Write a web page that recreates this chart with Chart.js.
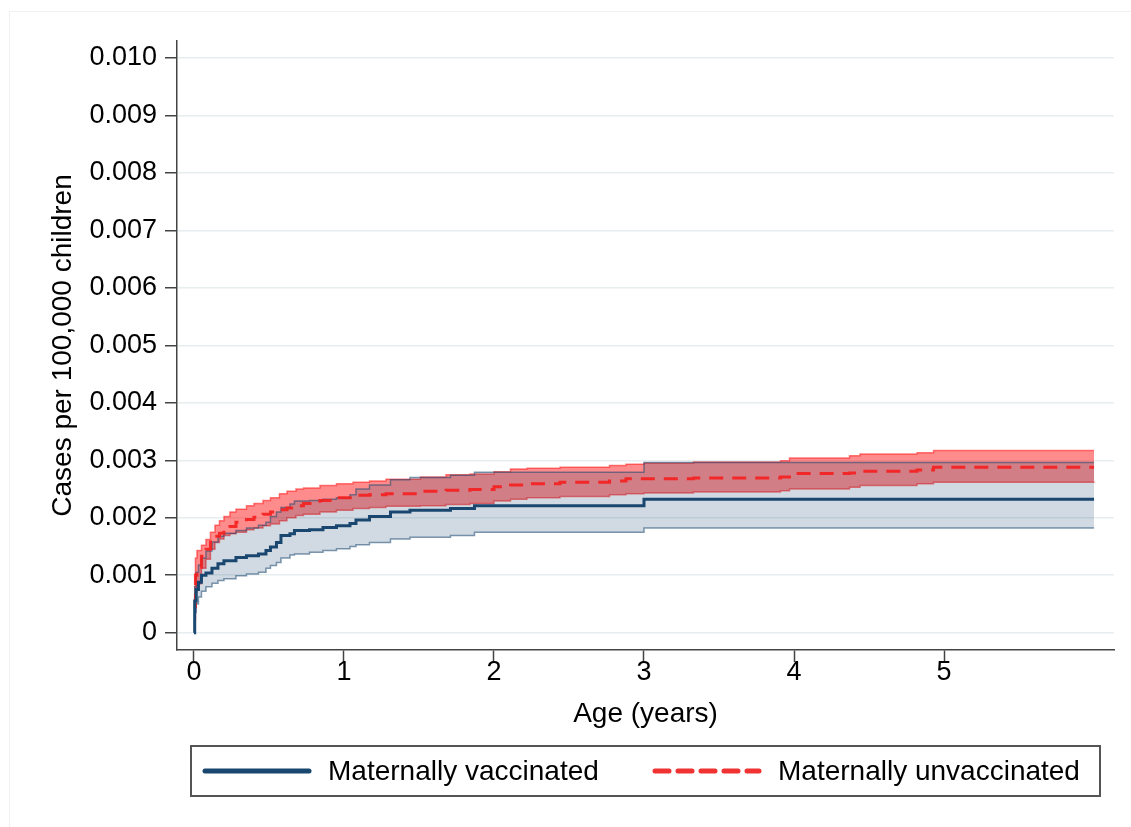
<!DOCTYPE html>
<html>
<head>
<meta charset="utf-8">
<script src="https://cdn.jsdelivr.net/npm/chart.js@4.4.1/dist/chart.umd.min.js"></script>
<style>
  html, body { margin: 0; padding: 0; background: #fff; }
  #wrap { position: relative; width: 1131px; height: 827px; font-family: "Liberation Sans", Arial, sans-serif; }
  #marco { position: absolute; left: 9px; top: 11px; right: 0; bottom: 0; border-top: 1px solid #f0f0f0; border-left: 1px solid #f0f0f0; }
  #grafico { position: absolute; left: 0; top: 0; }
  #leyenda { position: absolute; left: 190px; top: 745px; width: 911px; height: 52px; border: 2px solid #555; box-sizing: border-box; }
  .item { position: absolute; top: 0; height: 48px; display: flex; align-items: center; font-size: 28px; color: #000; }
  .item svg { margin-right: 16px; }
</style>
</head>
<body>
<div id="wrap">
  <div id="marco"></div>
  <canvas id="grafico" width="1131" height="827"></canvas>
  <div id="leyenda">
    <div class="item" style="left: 10px;">
      <svg width="110" height="12"><line x1="3" y1="6" x2="107" y2="6" stroke="#1a476f" stroke-width="5" stroke-linecap="round"/></svg>
      <span id="txt-vac"></span>
    </div>
    <div class="item" style="left: 460px;">
      <svg width="110" height="12"><line x1="3" y1="6" x2="107" y2="6" stroke="#f03232" stroke-width="5" stroke-linecap="round" stroke-dasharray="14 9"/></svg>
      <span id="txt-novac"></span>
    </div>
  </div>
</div>

<script>
// Series names
const nombreVacunados = 'Maternally vaccinated';
const nombreNoVacunados = 'Maternally unvaccinated';

// Maternally vaccinated: age (years), cumulative incidence and 95% CI
const tiempoVac = [0, 0.005, 0.015, 0.03, 0.05, 0.08, 0.12, 0.16, 0.2, 0.28, 0.35, 0.43, 0.48, 0.51, 0.55, 0.58, 0.64, 0.67, 0.77, 0.86, 0.95, 1.04, 1.08, 1.17, 1.31, 1.44, 1.71, 1.87, 3.0, 6.0];
const estimVac = [0, 0.00055, 0.00075, 0.00088, 0.00100, 0.00104, 0.00112, 0.00120, 0.00125, 0.00131, 0.00134, 0.00137, 0.00143, 0.00149, 0.00157, 0.00169, 0.00172, 0.00178, 0.00179, 0.00183, 0.00186, 0.00190, 0.00196, 0.00202, 0.00210, 0.00213, 0.00216, 0.00221, 0.00232, 0.00232];
const infVac   = [0, 0.00035, 0.00050, 0.00062, 0.00072, 0.00080, 0.00086, 0.00091, 0.00094, 0.00099, 0.00102, 0.00105, 0.00112, 0.00117, 0.00122, 0.00130, 0.00135, 0.00137, 0.00140, 0.00143, 0.00146, 0.00150, 0.00153, 0.00157, 0.00163, 0.00166, 0.00169, 0.00175, 0.00182, 0.00182];
const supVac   = [0, 0.00080, 0.00105, 0.00118, 0.00130, 0.00142, 0.00158, 0.00168, 0.00173, 0.00178, 0.00182, 0.00187, 0.00192, 0.00202, 0.00210, 0.00218, 0.00224, 0.00229, 0.00230, 0.00232, 0.00235, 0.00240, 0.00250, 0.00257, 0.00266, 0.00270, 0.00274, 0.00279, 0.00296, 0.00296];

// Maternally unvaccinated
const tiempoNoVac = [0, 0.01, 0.02, 0.05, 0.08, 0.11, 0.14, 0.17, 0.2, 0.24, 0.28, 0.35, 0.40, 0.46, 0.51, 0.57, 0.62, 0.68, 0.73, 0.84, 0.95, 1.06, 1.17, 1.28, 1.51, 1.68, 1.84, 2.0, 2.11, 2.22, 2.44, 2.77, 2.88, 3.0, 3.33, 3.91, 3.97, 4.37, 4.44, 4.82, 4.93, 6.0];
const estimNoVac = [0.00045, 0.00100, 0.00114, 0.00133, 0.00145, 0.00158, 0.00168, 0.00173, 0.00178, 0.00185, 0.00192, 0.00197, 0.00201, 0.00206, 0.00210, 0.00214, 0.00217, 0.00221, 0.00225, 0.00230, 0.00235, 0.00239, 0.00240, 0.00242, 0.00246, 0.00248, 0.00249, 0.00254, 0.00257, 0.00259, 0.00262, 0.00264, 0.00268, 0.00268, 0.00269, 0.00271, 0.00277, 0.00278, 0.00281, 0.00283, 0.00288, 0.00288];
const infNoVac   = [0.00022, 0.00070, 0.00085, 0.00112, 0.00128, 0.00145, 0.00157, 0.00163, 0.00169, 0.00172, 0.00175, 0.00179, 0.00182, 0.00186, 0.00189, 0.00195, 0.00200, 0.00204, 0.00206, 0.00210, 0.00213, 0.00216, 0.00218, 0.00220, 0.00221, 0.00223, 0.00225, 0.00229, 0.00232, 0.00235, 0.00237, 0.00240, 0.00242, 0.00243, 0.00245, 0.00247, 0.00250, 0.00253, 0.00256, 0.00259, 0.00262, 0.00261];
const supNoVac   = [0.00080, 0.00130, 0.00143, 0.00152, 0.00162, 0.00175, 0.00187, 0.00195, 0.00202, 0.00210, 0.00215, 0.00221, 0.00225, 0.00230, 0.00235, 0.00242, 0.00246, 0.00250, 0.00252, 0.00256, 0.00259, 0.00262, 0.00264, 0.00267, 0.00271, 0.00275, 0.00276, 0.00280, 0.00285, 0.00286, 0.00288, 0.00291, 0.00293, 0.00295, 0.00297, 0.00299, 0.00304, 0.00308, 0.00311, 0.00313, 0.00317, 0.00317];

// Ticks
const ticksX = [0, 1, 2, 3, 4, 5];
const ticksY = [0, 0.001, 0.002, 0.003, 0.004, 0.005, 0.006, 0.007, 0.008, 0.009, 0.010];
const etiquetasY = ['0', '0.001', '0.002', '0.003', '0.004', '0.005', '0.006', '0.007', '0.008', '0.009', '0.010'];

const tituloX = 'Age (years)';
const tituloY = 'Cases per 100,000 children';

function puntos(tiempos, valores) {
    return tiempos.map((t, i) => ({ x: t, y: valores[i] }));
}

document.getElementById('txt-vac').textContent = nombreVacunados;
document.getElementById('txt-novac').textContent = nombreNoVacunados;

const fuente = { family: '"Liberation Sans", Arial, sans-serif', size: 27 };

const ctx = document.getElementById('grafico').getContext('2d');
new Chart(ctx, {
    type: 'line',
    data: {
        datasets: [
            {   // estimación vacunados
                label: nombreVacunados,
                data: puntos(tiempoVac, estimVac),
                borderColor: '#1a476f',
                borderWidth: 3,
                stepped: 'before',
                pointRadius: 0,
                fill: false
            },
            {   // estimación no vacunados
                label: nombreNoVacunados,
                data: puntos(tiempoNoVac, estimNoVac),
                borderColor: 'rgba(245, 30, 30, 0.9)',
                borderWidth: 3,
                borderDash: [14, 9],
                stepped: 'before',
                pointRadius: 0,
                fill: false
            },
            {   // IC superior vacunados
                label: 'ic-sup-vac',
                data: puntos(tiempoVac, supVac),
                borderColor: 'rgba(26, 71, 111, 0.55)',
                borderWidth: 1.5,
                backgroundColor: 'rgba(26, 71, 111, 0.2)',
                stepped: 'before',
                pointRadius: 0,
                fill: '+1'
            },
            {   // IC inferior vacunados
                label: 'ic-inf-vac',
                data: puntos(tiempoVac, infVac),
                borderColor: 'rgba(26, 71, 111, 0.55)',
                borderWidth: 1.5,
                stepped: 'before',
                pointRadius: 0,
                fill: false
            },
            {   // IC superior no vacunados
                label: 'ic-sup-novac',
                data: puntos(tiempoNoVac, supNoVac),
                borderColor: 'rgba(255, 0, 0, 0.5)',
                borderWidth: 1.5,
                backgroundColor: 'rgba(255, 0, 0, 0.45)',
                stepped: 'before',
                pointRadius: 0,
                fill: '+1'
            },
            {   // IC inferior no vacunados
                label: 'ic-inf-novac',
                data: puntos(tiempoNoVac, infNoVac),
                borderColor: 'rgba(255, 0, 0, 0.5)',
                borderWidth: 1.5,
                stepped: 'before',
                pointRadius: 0,
                fill: false
            }
        ]
    },
    options: {
        responsive: false,
        animation: false,
        layout: { padding: { left: 0, top: 41, right: 17, bottom: 87 } },
        plugins: {
            legend: { display: false },
            tooltip: { enabled: false }
        },
        scales: {
            x: {
                type: 'linear',
                min: -0.113,
                max: 6.133,
                afterBuildTicks: (escala) => { escala.ticks = ticksX.map(v => ({ value: v })); },
                afterFit: (escala) => { escala.height = 90; },
                ticks: {
                    color: '#000',
                    font: fuente,
                    padding: -6,
                    maxRotation: 0,
                    callback: (v) => String(v)
                },
                grid: {
                    drawOnChartArea: false,
                    drawTicks: true,
                    tickLength: 12,
                    tickColor: '#444',
                    tickWidth: 1.5
                },
                border: { display: true, color: '#444', width: 1.5 },
                title: {
                    display: true,
                    text: tituloX,
                    color: '#000',
                    font: { family: fuente.family, size: 28 },
                    padding: { top: 0, bottom: 9 }
                }
            },
            y: {
                type: 'linear',
                min: -0.000301,
                max: 0.010296,
                afterBuildTicks: (escala) => { escala.ticks = ticksY.map(v => ({ value: v })); },
                afterFit: (escala) => { escala.width = 177; },
                ticks: {
                    color: '#000',
                    font: fuente,
                    padding: 8,
                    callback: (v) => etiquetasY[ticksY.findIndex(t => Math.abs(t - v) < 1e-9)]
                },
                grid: {
                    color: '#e6eef0',
                    lineWidth: 1.5,
                    drawTicks: true,
                    tickLength: 12,
                    tickColor: '#444',
                    tickWidth: 1.5
                },
                border: { display: true, color: '#444', width: 1.5 },
                title: {
                    display: true,
                    text: tituloY,
                    color: '#000',
                    font: { family: fuente.family, size: 28 },
                    padding: { top: 46, bottom: 0 }
                }
            }
        }
    }
});
</script>
</body>
</html>
